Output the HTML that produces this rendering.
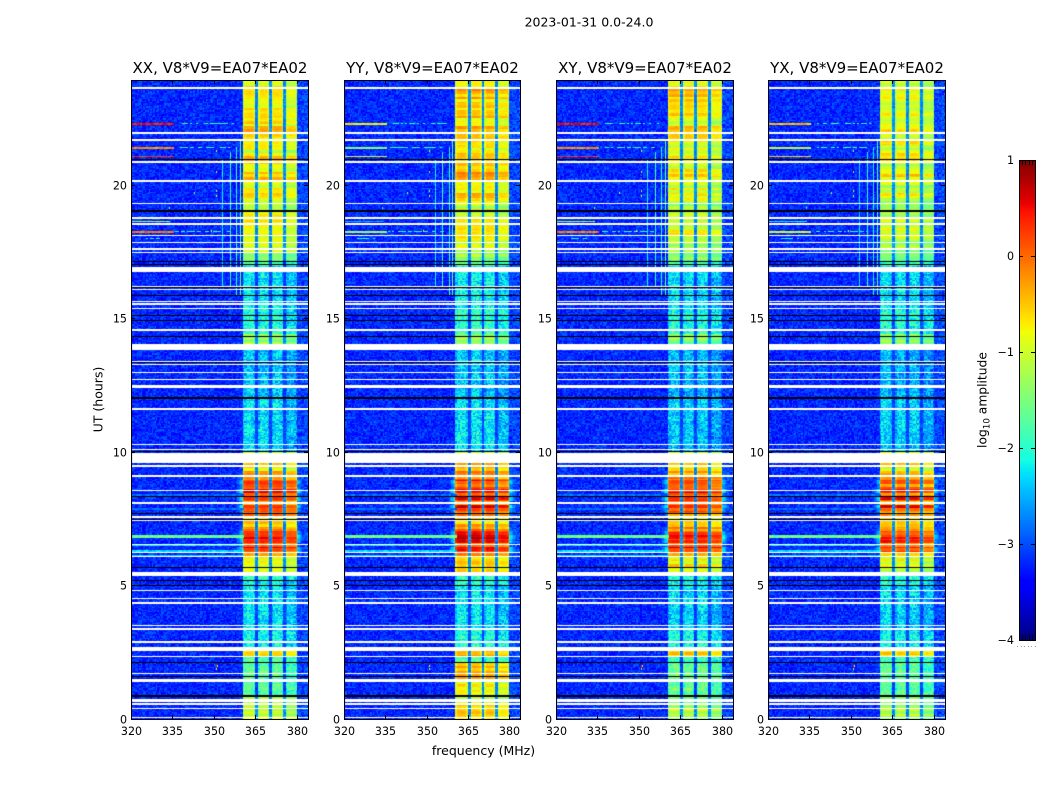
<!DOCTYPE html>
<html lang="en">
<head>
<meta charset="utf-8">
<title>2023-01-31 0.0-24.0 amplitude waterfall</title>
<style>
html,body{margin:0;padding:0;background:#fff;width:1050px;height:800px;overflow:hidden}
#stage{position:relative;width:1050px;height:800px}
canvas{position:absolute;display:block}
svg{position:absolute;left:0;top:0}
text{font-family:"DejaVu Sans","Liberation Sans",sans-serif;fill:#000}
</style>
</head>
<body>
<div id="stage">
<svg id="overlay" width="1050" height="800" viewBox="0 0 1050 800" xmlns="http://www.w3.org/2000/svg">
  <text x="589" y="26.5" text-anchor="middle" font-size="12.5">2023-01-31 0.0-24.0</text>
  <text x="483.5" y="755" text-anchor="middle" font-size="12.5">frequency (MHz)</text>
  <text x="0" y="0" transform="translate(102.5,399.5) rotate(-90)" text-anchor="middle" font-size="12.5">UT (hours)</text>
  <text x="0" y="0" transform="translate(986.5,400) rotate(-90)" text-anchor="middle" font-size="12.3">log<tspan dy="2.8" font-size="8.7">10</tspan><tspan dy="-2.8"> amplitude</tspan></text>
</svg>
</div>
<script>
/* ---------- data ---------- */
const polarisations = ['XX', 'YY', 'XY', 'YX'];
const baselineLabel = 'V8*V9=EA07*EA02';
const freqTicks = [320, 335, 350, 365, 380];
const hourTicks = [0, 5, 10, 15, 20];
const colorTicks = [-4, -3, -2, -1, 0, 1];
const colorTickLabels = ['\u22124', '\u22123', '\u22122', '\u22121', '0', '1'];

/* in-band log10 amplitude of XX over time: each band starts at bandStart[k] hours */
const bandStart = [0, 0.6, 0.87, 2.13, 2.34, 2.56, 3.3, 5.0, 5.2, 5.5, 6.1, 6.25, 6.45, 6.6, 6.75, 6.9, 7.05, 7.2, 7.4, 7.6, 7.75, 7.9, 8.0, 8.15, 8.3, 8.45, 8.6, 8.8, 8.95, 9.1, 9.3, 9.6, 10.0, 10.3, 12.0, 14.05, 14.4, 14.6, 15.4, 16.95, 17.2, 17.5, 17.9, 18.1, 18.3, 18.8, 19.1, 19.4, 19.7, 20.0, 20.2, 20.5, 20.9, 21.2, 21.5, 22.0, 22.2, 22.5, 22.8, 23.0, 23.3, 23.6];
const bandLevel = [-1.05, -1.4, -1.75, -1.8, -0.5, -2.1, -2.3, -2.1, -2.0, -0.85, -0.4, 0.3, -0.25, 0.2, 0.45, 0.1, -0.25, -0.5, -0.9, -0.25, 0.0, 0.38, -0.2, 0.32, -0.1, 0.4, -0.1, 0.2, -0.2, -0.4, -0.7, -0.8, -2.4, -2.35, -2.45, -1.4, -2.0, -2.1, -2.3, -1.8, -1.35, -1.15, -0.95, -0.6, -0.9, -0.95, -1.2, -0.75, -0.95, -0.65, -0.5, -0.8, -0.6, -0.95, -0.7, -0.45, -0.8, -0.55, -0.8, -0.65, -0.5, -0.8];

/* per-polarisation level offset relative to XX, by time period */
const periodStart = [0, 0.87, 1.5, 2.13, 5.5, 9.7, 14.05, 17.2];
const polOffsetXX = [0, 0, 0, 0, 0, 0, 0, 0];
const polOffsetYY = [0.3, 0.9, 1.3, 0.05, 0.08, 0.05, 0.1, 0.08];
const polOffsetXY = [-0.1, 0.1, 0.1, -0.05, 0.05, -0.05, 0, -0.08];
const polOffsetYX = [-0.15, 0, 0.05, -0.05, -0.08, -0.05, 0, -0.2];

/* spectral windows */
const subbandLow = [360.6, 365.8, 370.8, 375.9];
const subbandHigh = [364.8, 370.0, 375.0, 379.9];
const subbandOffset = [0.06, 0.04, 0.04, -0.16];
const channelProfile = [-0.22, -0.03, 0, 0.02, 0.02, 0.02, 0, -0.03, -0.2];
const backgroundLevel = -3.2;
const gapLevelBright = -2.7;
const gapLevelDim = -3.05;
const upperEdgeLevel = -3.05;

/* small amplitude texture (hand-written, cycled across the grid) */
const speckle = [0.31,-0.52,0.08,0.77,-0.24,-0.91,0.43,0.12,-0.66,0.58,-0.07,0.95,-0.38,0.21,-0.83,0.49,-0.15,0.66,-0.47,0.03,0.84,-0.72,0.27,-0.33,0.61,-0.95,0.16,0.39,-0.58,0.72,-0.11,-0.28,0.53,0.88,-0.79,0.05,-0.42,0.34,0.68,-0.19,-0.61,0.47,-0.86,0.22,0.11,-0.36,0.79,-0.54,0.01,0.57,-0.68,0.29,0.92,-0.25,-0.44,0.14,0.63,-0.77,0.36,-0.09,-0.97,0.51,0.18,-0.31,0.74,-0.56,0.41,-0.14,0.86,-0.63,0.24,-0.4,0.07,0.55,-0.81,0.33,-0.21,0.69,-0.49,0.1,-0.73,0.45,0.9,-0.35,-0.02,0.6,-0.88,0.26,-0.17,0.38,-0.59,0.81,-0.3,0.13,-0.69,0.5,-0.12,0.71,-0.46,0.19,-0.84];

/* horizontal interference lines */
const rfiHour = [22.29, 22.29, 21.39, 21.39, 21.05, 18.61, 18.24, 18.24, 18.01, 6.83, 6.5, 6.3, 6.12, 7.85, 8.4];
const rfiSpan = [0.07, 0.04, 0.08, 0.04, 0.05, 0.05, 0.08, 0.04, 0.04, 0.1, 0.08, 0.06, 0.06, 0.08, 0.08];
const rfiFreqLow = [320.5, 338, 320.5, 337, 320.5, 320.5, 320.5, 336, 325, 320.5, 320.5, 320.5, 320.5, 320.5, 320.5];
const rfiFreqHigh = [335, 357, 335, 356, 335, 334, 335, 356, 331, 360.6, 360.6, 360.6, 360.6, 360.6, 360.6];
const rfiLevel = [0.45, -2.0, -0.2, -2.0, 0.3, -1.3, -0.1, -2.0, -2.1, -1.6, -2.25, -2.3, -2.35, -2.85, -2.85];
const rfiPolOffset = [0, -1.2, 0, -0.9];

/* vertical interference lines */
const spurFreq = [353.2, 355.8, 358.3, 359.6];
const spurLevel = [-2.2, -1.9, -2.0, -1.7];
const spurHourLow = [16.2, 16.2, 15.9, 15.9];
const spurHourHigh = [20.9, 21.2, 21.4, 21.7];

/* isolated bright samples */
const dotFreq = [351, 351, 351, 351, 351, 351, 351, 351.2, 343, 334, 349, 351];
const dotHour = [21.3, 20.9, 20.5, 20.2, 19.8, 19.6, 2.0, 2.0, 19.7, 19.15, 18.3, 1.9];
const dotLevel = [-1.0, 0.3, -0.6, 0.4, -1.2, -0.9, 0.5, -0.8, -1.2, -1.5, -1.0, -1.0];

/* flagged time ranges: white = no data, black = dropout */
const whiteLow = [23.60, 21.91, 21.65, 20.82, 20.11, 19.28, 18.74, 18.51, 18.08, 17.81, 17.57, 17.44, 16.74, 16.16, 16.06, 15.60, 15.51, 15.35, 14.53, 13.82, 13.34, 13.25, 12.95, 12.69, 12.44, 12.38, 11.57, 10.25, 10.06, 9.60, 9.45, 9.08, 8.52, 8.05, 7.54, 7.40, 6.51, 6.21, 6.06, 5.36, 4.78, 4.48, 4.31, 3.47, 3.33, 2.85, 2.56, 2.31, 1.68, 1.40, 0.63, 0.53, 0.37, 0.03];
const whiteHigh = [23.66, 21.97, 21.71, 20.88, 20.17, 19.34, 18.81, 18.57, 18.14, 17.87, 17.63, 17.50, 16.91, 16.22, 16.12, 15.66, 15.57, 15.40, 14.59, 14.03, 13.40, 13.31, 13.01, 12.75, 12.50, 12.44, 11.63, 10.31, 10.12, 9.98, 9.51, 9.14, 8.58, 8.11, 7.6, 7.46, 6.57, 6.27, 6.12, 5.51, 4.84, 4.54, 4.37, 3.53, 3.39, 2.91, 2.7, 2.37, 1.74, 1.5, 0.75, 0.59, 0.43, 0.09];
const blackHour = [20.94, 19.04, 17.15, 17.02, 16.15, 15.85, 15.10, 14.94, 14.34, 13.35, 12.02, 10.03, 8.33, 7.68, 7.48, 5.67, 5.20, 4.99, 2.12, 1.58, 0.87];
const blackSpan = [0.04, 0.07, 0.04, 0.04, 0.03, 0.04, 0.04, 0.04, 0.04, 0.03, 0.04, 0.04, 0.04, 0.04, 0.04, 0.03, 0.04, 0.04, 0.04, 0.04, 0.07];

/* ---------- layout (not data) ---------- */
const layout = { left: [131, 344, 556, 768], right: [308, 520, 733, 945], top: 80, bottom: 719,
  freqMin: 320, freqMax: 384, hourMin: 0, hourMax: 23.93,
  barLeft: 1019, barRight: 1035, barTop: 160, barBottom: 640, colorMin: -4, colorMax: 1 };
const polOffsets = [polOffsetXX, polOffsetYY, polOffsetXY, polOffsetYX];
const SVG_NS = 'http://www.w3.org/2000/svg';
const overlay = document.getElementById('overlay');
const stage = document.getElementById('stage');

/* ---------- scales ---------- */
function xScale(panel, mhz) {
  const w = layout.right[panel] - layout.left[panel];
  return (mhz - layout.freqMin) / (layout.freqMax - layout.freqMin) * w;
}
function yScale(hour) {
  const h = layout.bottom - layout.top;
  return h - (hour - layout.hourMin) / (layout.hourMax - layout.hourMin) * h;
}
function barY(value) {
  const h = layout.barBottom - layout.barTop;
  return layout.barBottom - (value - layout.colorMin) / (layout.colorMax - layout.colorMin) * h;
}
function ramp(stops, n) {
  for (let k = 1; k < stops.length; k++) {
    if (n <= stops[k][0]) {
      const a = stops[k - 1], b = stops[k];
      return a[1] + (b[1] - a[1]) * (n - a[0]) / (b[0] - a[0]);
    }
  }
  return stops[stops.length - 1][1];
}
const jetR = [[0, 0], [0.35, 0], [0.66, 1], [0.89, 1], [1, 0.5]];
const jetG = [[0, 0], [0.125, 0], [0.375, 1], [0.64, 1], [0.91, 0], [1, 0]];
const jetB = [[0, 0.5], [0.11, 1], [0.34, 1], [0.65, 0], [1, 0]];
function colorOf(value) {
  const n = Math.min(1, Math.max(0, (value - layout.colorMin) / (layout.colorMax - layout.colorMin)));
  const q = Math.round(n * 255) / 255;
  return 'rgb(' + Math.round(ramp(jetR, q) * 255) + ',' + Math.round(ramp(jetG, q) * 255) + ',' + Math.round(ramp(jetB, q) * 255) + ')';
}
function lastIndex(starts, v) {
  let k = 0;
  for (let i = 0; i < starts.length; i++) { if (starts[i] <= v) k = i; }
  return k;
}

/* ---------- model of one cell ---------- */
function cellLevel(pol, mhz, hour, i, j) {
  const level = bandLevel[lastIndex(bandStart, hour)] + polOffsets[pol][lastIndex(periodStart, hour)];
  const tex = speckle[(i * i * 3 + j * j * 7 + i * j * 11 + pol * 5 + i * 23 + j * 41) % speckle.length];
  const bright = level > -1.6;
  for (let s = 0; s < subbandLow.length; s++) {
    if (mhz >= subbandLow[s] && mhz <= subbandHigh[s]) {
      const pos = Math.min(channelProfile.length - 1, Math.floor((mhz - subbandLow[s]) / (subbandHigh[s] - subbandLow[s]) * channelProfile.length));
      const block = Math.floor(j / 2);
      const common = speckle[(block * block * 5 + block * 3 + pol * 7) % speckle.length];
      const own = speckle[(j * 13 + s * 11 + pol * 7) % speckle.length];
      if (bright) {
        return level + subbandOffset[s] + channelProfile[pos] + common * 0.32 + own * 0.07 + tex * 0.07;
      }
      return level + subbandOffset[s] + channelProfile[pos] + common * 0.1 + tex * 0.42;
    }
  }
  if (mhz > subbandHigh[3]) {
    return Math.max(upperEdgeLevel + tex * 0.33, level - 2.4 - (mhz - subbandHigh[3]) * 0.4 + tex * 0.15);
  }
  if (mhz > subbandLow[0]) return (bright ? gapLevelBright : gapLevelDim) + tex * 0.2;
  const leak = level - 2.3 - (subbandLow[0] - mhz) * 0.45;
  return Math.max(backgroundLevel + tex * 0.33, leak + tex * 0.15);
}

/* ---------- heatmap panels ---------- */
function drawPanel(pol) {
  const canvas = document.createElement('canvas');
  
  
  const w = layout.right[pol] - layout.left[pol], h = layout.bottom - layout.top;
  canvas.width = w;
  canvas.height = h;
  canvas.style.left = layout.left[pol] + 'px';
  canvas.style.top = layout.top + 'px';
  const ctx = canvas.getContext('2d');
  const df = 0.5, dt = 0.05;
  const cols = Math.round((layout.freqMax - layout.freqMin) / df);
  const rows = Math.round(24 / dt);
  for (let j = 0; j < rows; j++) {
    const hour = (j + 0.5) * dt;
    const y1 = Math.round(yScale(j * dt + dt)), y2 = Math.round(yScale(j * dt));
    for (let i = 0; i < cols; i++) {
      const mhz = layout.freqMin + (i + 0.5) * df;
      const x1 = Math.round(xScale(pol, mhz - df / 2)), x2 = Math.round(xScale(pol, mhz + df / 2));
      ctx.fillStyle = colorOf(cellLevel(pol, mhz, hour, i, j));
      ctx.fillRect(x1, y1, x2 - x1, y2 - y1);
    }
  }
  /* horizontal RFI */
  for (let k = 0; k < rfiHour.length; k++) {
    const isTop = rfiHour[k] > 17;
    const v = rfiLevel[k] + (isTop && rfiLevel[k] > -1.5 ? rfiPolOffset[pol] : 0);
    const x1 = xScale(pol, rfiFreqLow[k]), x2 = xScale(pol, rfiFreqHigh[k]);
    const y1 = yScale(rfiHour[k] + rfiSpan[k] / 2), y2 = yScale(rfiHour[k] - rfiSpan[k] / 2);
    for (let x = Math.floor(x1); x < x2; x += 2) {
      const tex = speckle[(x * 7 + k * 13 + pol * 3) % speckle.length];
      if (isTop && rfiLevel[k] < -1.8 && tex < -0.2) continue;
      ctx.fillStyle = colorOf(v + tex * 0.22);
      ctx.fillRect(x, Math.round(y1), 2, Math.max(1, Math.round(y2 - y1)));
    }
  }
  /* vertical RFI */
  for (let k = 0; k < spurFreq.length; k++) {
    const x = Math.floor(xScale(pol, spurFreq[k]));
    const yTop = yScale(spurHourHigh[k]), yBot = yScale(spurHourLow[k]);
    for (let y = Math.floor(yTop); y < yBot; y += 2) {
      const tex = speckle[(y * 5 + k * 17) % speckle.length];
      ctx.fillStyle = colorOf(spurLevel[k] + tex * 0.2 - (pol === 3 ? 0.1 : 0));
      ctx.fillRect(x, y, 1, 2);
    }
  }
  /* isolated samples */
  for (let k = 0; k < dotFreq.length; k++) {
    ctx.fillStyle = colorOf(dotLevel[k]);
    ctx.fillRect(Math.floor(xScale(pol, dotFreq[k])), Math.floor(yScale(dotHour[k])), 1, 2);
  }
  /* flags, snapped to whole pixels */
  ctx.fillStyle = '#ffffff';
  for (let k = 0; k < whiteLow.length; k++) {
    const y1 = Math.round(yScale(whiteHigh[k])), y2 = Math.round(yScale(whiteLow[k]));
    ctx.fillRect(1, y1, w - 1, Math.max(1, y2 - y1));
  }
  ctx.fillStyle = '#000000';
  for (let k = 0; k < blackHour.length; k++) {
    const y1 = Math.round(yScale(blackHour[k] + blackSpan[k] / 2));
    const y2 = Math.round(yScale(blackHour[k] - blackSpan[k] / 2));
    ctx.fillRect(0, y1, w, Math.max(1, y2 - y1));
  }
  stage.insertBefore(canvas, overlay);
}

/* ---------- svg helpers ---------- */
function addLine(x1, y1, x2, y2, name, stroke) {
  const el = document.createElementNS(SVG_NS, 'line');
  el.setAttribute('x1', x1);
  el.setAttribute('y1', y1);
  el.setAttribute('x2', x2);
  el.setAttribute('y2', y2);
  el.setAttribute('stroke', stroke || '#000');
  el.setAttribute('stroke-width', '1');
  
  
  overlay.appendChild(el);
}
function addText(x, y, str, size, anchor, name) {
  const el = document.createElementNS(SVG_NS, 'text');
  el.setAttribute('x', x);
  el.setAttribute('y', y);
  el.setAttribute('font-size', size);
  el.setAttribute('text-anchor', anchor);
  
  
  el.textContent = str;
  overlay.appendChild(el);
}
function addFrame(x, y, w, h, name) {
  const el = document.createElementNS(SVG_NS, 'rect');
  el.setAttribute('x', x + 0.5);
  el.setAttribute('y', y + 0.5);
  el.setAttribute('width', w);
  el.setAttribute('height', h);
  el.setAttribute('fill', 'none');
  el.setAttribute('stroke', '#000');
  
  
  overlay.appendChild(el);
}

/* ---------- axes ---------- */
function drawAxes(pol) {
  const key = polarisations[pol].toLowerCase();
  const L = layout.left[pol], R = layout.right[pol], T = layout.top, B = layout.bottom;
  addFrame(L, T, R - L, B - T, 'panel-frame-' + key);
  addText((L + R) / 2 + 0.5, 73, polarisations[pol] + ', ' + baselineLabel, 15, 'middle', 'panel-title-' + key);
  freqTicks.forEach(function (f) {
    const x = Math.round(L + xScale(pol, f)) + 0.5;
    addLine(x, B, x, B - 4, 'x-tick-' + key + '-' + f);
    addLine(x, T, x, T + 4, 'x-tick-top-' + key + '-' + f);
    addText(x, B + 16, String(f), 11.1, 'middle', 'x-tick-label-' + key + '-' + f);
  });
  hourTicks.forEach(function (t) {
    const y = Math.round(T + yScale(t)) + 0.5;
    addLine(L, y, L + 4, y, 'y-tick-' + key + '-' + t);
    addLine(R, y, R - 4, y, 'y-tick-right-' + key + '-' + t);
    addText(L - 4, y + 4, String(t), 11.1, 'end', 'y-tick-label-' + key + '-' + t);
  });
}

/* ---------- colorbar ---------- */
function drawColorbar() {
  const L = layout.barLeft, R = layout.barRight;
  for (let y = layout.barTop; y < layout.barBottom; y++) {
    const v = layout.colorMax - (y - layout.barTop + 0.5) / (layout.barBottom - layout.barTop) * (layout.colorMax - layout.colorMin);
    const el = document.createElementNS(SVG_NS, 'rect');
    el.setAttribute('x', L);
    el.setAttribute('y', y);
    el.setAttribute('width', R - L);
    el.setAttribute('height', 1);
    el.setAttribute('fill', colorOf(v));
    
    
    overlay.appendChild(el);
  }
  addFrame(L, layout.barTop, R - L, layout.barBottom - layout.barTop, 'colorbar-frame');
  colorTicks.forEach(function (v, k) {
    const y = Math.round(barY(v)) + 0.5;
    addLine(L, y, L + 4, y, 'colorbar-tick-left');
    addLine(R, y, R - 4, y, 'colorbar-tick-right');
    addText(L - 5, y + 3.5, colorTickLabels[k], 11.1, 'end', 'colorbar-tick-label');
  });
  for (let k = 1; k < 5; k++) {
    const x = L + Math.round(k * (R - L) / 5) + 0.5;
    addLine(x, layout.barTop, x, layout.barTop + 5, 'colorbar-edge-tick-top');
    addLine(x, layout.barBottom, x, layout.barBottom - 5, 'colorbar-edge-tick-bottom');
  }
  for (let k = 0; k < 6; k++) {
    const el = document.createElementNS(SVG_NS, 'rect');
    el.setAttribute('x', L - 2 + Math.round(k * 3.5));
    el.setAttribute('y', layout.barBottom + 6);
    el.setAttribute('width', 1);
    el.setAttribute('height', 1);
    el.setAttribute('fill', '#999');
    
    
    overlay.appendChild(el);
  }
}

for (let p = 0; p < polarisations.length; p++) {
  drawPanel(p);
  drawAxes(p);
}
drawColorbar();
</script>
</body>
</html>
